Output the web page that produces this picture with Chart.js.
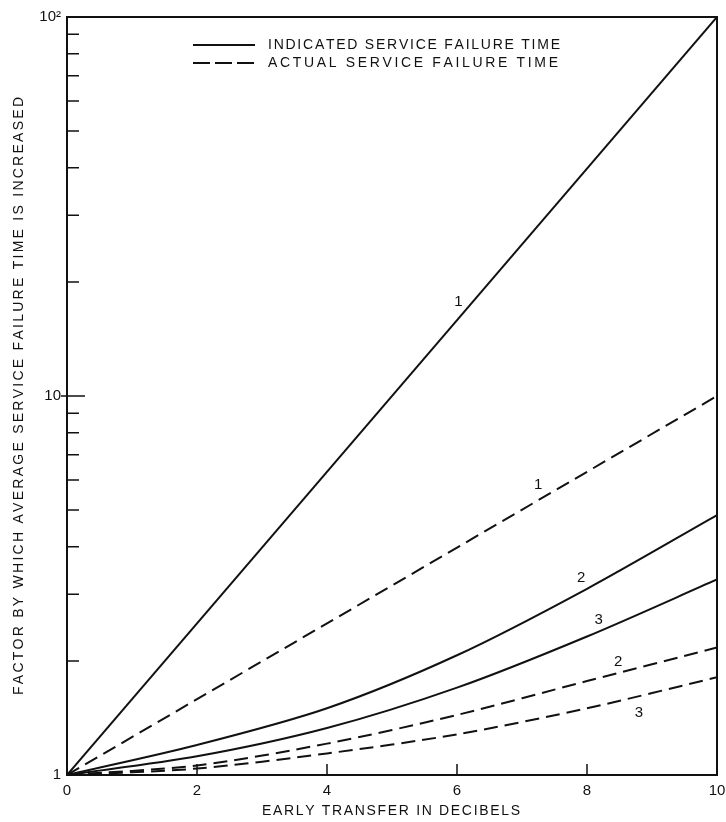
<!DOCTYPE html>
<html><head><meta charset="utf-8">
<script src="https://cdn.jsdelivr.net/npm/chart.js@4.4.1/dist/chart.umd.min.js"></script>
<style>html,body{margin:0;padding:0;background:#fff}#wrap{width:726px;height:822px}</style>
</head><body><div id="wrap"><canvas id="c" width="726" height="822"></canvas></div>
<script>
// ---- data ----
const xValues = [0, 2, 4, 6, 8, 10];
const xEnds = [0, 10];
const indicated1 = [1, 100];
const actual1 = [1, 10];
const indicated2 = [1, 1.2, 1.5, 2.07, 3.1, 4.85];
const indicated3 = [1, 1.12, 1.33, 1.7, 2.32, 3.28];
const actual2 = [1, 1.06, 1.21, 1.44, 1.77, 2.17];
const actual3 = [1, 1.04, 1.14, 1.28, 1.5, 1.81];
const xTickValues = [0, 2, 4, 6, 8, 10];
const yLabelValues = [1, 10, 100];
const yMinorTicks = [2, 3, 4, 5, 6, 7, 8, 9, 20, 30, 40, 50, 60, 70, 80, 90];
const legendLabels = ['INDICATED SERVICE FAILURE TIME', 'ACTUAL SERVICE FAILURE TIME'];
const curveLabelText = ['1', '1', '2', '3', '2', '3'];
const curveLabelX = [6.02, 7.25, 7.91, 8.18, 8.48, 8.8];
const curveLabelY = [17.7, 5.82, 3.32, 2.56, 1.99, 1.46];
const xTitle = 'EARLY TRANSFER IN DECIBELS';
const yTitle = 'FACTOR BY WHICH AVERAGE SERVICE FAILURE TIME IS INCREASED';

const INK = '#111';
const FAMILY = '"Liberation Sans", Arial, Helvetica, sans-serif';
const DASH = [14, 7];
const pts = (xs, ys) => xs.map((x, i) => ({ x: x, y: ys[i] }));
const line = (data, dashed, smooth) => ({
  data: data, borderColor: INK, borderWidth: 2, pointRadius: 0,
  borderDash: dashed ? DASH : [], fill: false,
  cubicInterpolationMode: 'default', tension: smooth ? 0.3 : 0
});

function drawSpaced(ctx, text, x, y, targetWidth, align) {
  const chars = Array.from(text);
  const natural = chars.reduce((s, ch) => s + ctx.measureText(ch).width, 0);
  const sp = targetWidth ? (targetWidth - natural) / (chars.length - 1) : 0;
  const total = natural + sp * (chars.length - 1);
  let cx = align === 'center' ? x - total / 2 : x;
  ctx.textAlign = 'left';
  for (const ch of chars) {
    ctx.fillText(ch, cx, y);
    cx += ctx.measureText(ch).width + sp;
  }
}

const decor = {
  id: 'decor',
  afterDraw(chart) {
    const ctx = chart.ctx;
    const a = chart.chartArea;
    const xs = chart.scales.x, ys = chart.scales.y;
    ctx.save();
    ctx.strokeStyle = INK;
    ctx.fillStyle = INK;
    ctx.lineWidth = 2;
    ctx.beginPath();
    ctx.moveTo(a.left, a.top);
    ctx.lineTo(a.right, a.top);
    ctx.lineTo(a.right, a.bottom);
    ctx.stroke();
    ctx.lineWidth = 1.5;
    ctx.beginPath();
    for (const v of yMinorTicks) {
      const p = ys.getPixelForValue(v);
      ctx.moveTo(a.left, p); ctx.lineTo(a.left + 12, p);
    }
    const p10 = ys.getPixelForValue(10);
    ctx.moveTo(a.left - 6, p10); ctx.lineTo(a.left + 18, p10);
    for (const v of xTickValues) {
      if (v === xs.min || v === xs.max) continue;
      const p = xs.getPixelForValue(v);
      ctx.moveTo(p, a.bottom); ctx.lineTo(p, a.bottom - 11);
    }
    ctx.stroke();
    // legend
    ctx.lineWidth = 2;
    ctx.beginPath();
    ctx.setLineDash([]);
    ctx.moveTo(193, 45); ctx.lineTo(255, 45);
    ctx.stroke();
    ctx.beginPath();
    ctx.setLineDash([17, 5]);
    ctx.moveTo(193, 63); ctx.lineTo(255, 63);
    ctx.stroke();
    ctx.setLineDash([]);
    ctx.font = '14px ' + FAMILY;
    ctx.textBaseline = 'middle';
    drawSpaced(ctx, legendLabels[0], 268, 45, 292, 'left');
    drawSpaced(ctx, legendLabels[1], 268, 63, 290, 'left');
    // curve labels
    ctx.font = '15px ' + FAMILY;
    ctx.textAlign = 'center';
    for (let i = 0; i < curveLabelText.length; i++) {
      ctx.fillText(curveLabelText[i], xs.getPixelForValue(curveLabelX[i]), ys.getPixelForValue(curveLabelY[i]));
    }
    // axis titles
    ctx.font = '14px ' + FAMILY;
    drawSpaced(ctx, xTitle, (a.left + a.right) / 2 - 1, 811, 258, 'center');
    ctx.translate(19, (a.top + a.bottom) / 2);
    ctx.rotate(-Math.PI / 2);
    drawSpaced(ctx, yTitle, 0, 0, 598, 'center');
    ctx.restore();
  }
};

new Chart(document.getElementById('c'), {
  type: 'line',
  data: {
    datasets: [
      line(pts(xEnds, indicated1), false, false),
      line(pts(xEnds, actual1), true, false),
      line(pts(xValues, indicated2), false, true),
      line(pts(xValues, indicated3), false, true),
      line(pts(xValues, actual2), true, true),
      line(pts(xValues, actual3), true, true)
    ]
  },
  options: {
    responsive: false,
    animation: false,
    devicePixelRatio: 1,
    layout: { padding: { top: 17, right: 9, left: 0, bottom: 0 } },
    plugins: { legend: { display: false }, tooltip: { enabled: false } },
    scales: {
      x: {
        type: 'linear', min: 0, max: 10,
        afterBuildTicks: s => { s.ticks = xTickValues.map(v => ({ value: v })); },
        afterFit: s => { s.height = 47; s.paddingLeft = 0; s.paddingRight = 0; },
        ticks: { color: INK, font: { family: FAMILY, size: 15 }, padding: 7, maxRotation: 0, autoSkip: false, callback: v => String(v) },
        grid: { display: false, drawTicks: false },
        border: { display: true, color: INK, width: 2 }
      },
      y: {
        type: 'logarithmic', min: 1, max: 100,
        afterBuildTicks: s => { s.ticks = yLabelValues.map(v => ({ value: v })); },
        afterFit: s => { s.width = 67; s.paddingTop = 0; s.paddingBottom = 0; },
        ticks: { color: INK, font: { family: FAMILY, size: 15 }, padding: 6, autoSkip: false, callback: v => v === 100 ? '10²' : String(v) },
        grid: { display: false, drawTicks: false },
        border: { display: true, color: INK, width: 2 }
      }
    }
  },
  plugins: [decor]
});
</script>
</body></html>
